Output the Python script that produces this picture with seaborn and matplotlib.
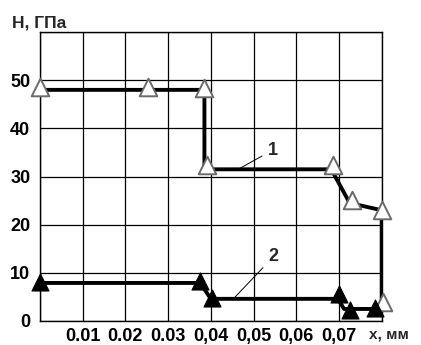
import matplotlib
matplotlib.use("Agg")
import matplotlib.pyplot as plt
import seaborn as sns
import numpy as np

# curve 1 (open triangles): polyline and marker positions
line1_x = [0.0, 0.0385, 0.0385, 0.0682, 0.0725, 0.0800, 0.0800]
line1_y = [48.0, 48.0, 31.5, 31.5, 24.5, 23.0, 4.0]
mark1_x = [0.0, 0.0254, 0.0383, 0.0391, 0.0687, 0.0730, 0.0800, 0.0803]
mark1_y = [48.6, 48.6, 48.4, 32.3, 32.4, 25.1, 23.0, 4.0]

# curve 2 (filled triangles)
line2_x = [0.0, 0.0375, 0.0400, 0.0697, 0.0712, 0.0790]
line2_y = [7.9, 7.9, 4.6, 4.6, 2.5, 2.5]
mark2_x = [0.0, 0.0375, 0.0402, 0.0699, 0.0726, 0.0785]
mark2_y = [8.0, 8.4, 4.8, 5.6, 2.3, 2.6]

x_ticks = [0.01, 0.02, 0.03, 0.04, 0.05, 0.06, 0.07]
x_labels = ["0.01", "0.02", "0.03", "0,04", "0,05", "0,06", "0,07"]
y_ticks = [0, 10, 20, 30, 40, 50]

sns.set_theme(style="white")
plt.rcParams['font.family'] = ['Liberation Sans', 'DejaVu Sans']

fig = plt.figure(figsize=(4.21, 3.45), dpi=100)
ax = fig.add_axes([0.095, 0.0696, 0.8116, 0.8374])

sns.lineplot(x=line1_x, y=line1_y, sort=False, estimator=None, color="black",
             lw=2.8, ax=ax, zorder=3)
sns.scatterplot(x=mark1_x, y=mark1_y, marker="^", s=160, color="white",
                edgecolor="#6a6a6a", linewidth=1.4, ax=ax, zorder=4, clip_on=False)
sns.lineplot(x=line2_x, y=line2_y, sort=False, estimator=None, color="black",
             lw=2.8, ax=ax, zorder=5)
sns.scatterplot(x=mark2_x, y=mark2_y, marker="^", s=150, color="black",
                edgecolor="black", linewidth=0.8, ax=ax, zorder=6, clip_on=False)

ax.set_xlim(0, 0.08)
ax.set_ylim(0, 60)
ax.set_xticks(np.arange(0, 0.0801, 0.01))
ax.set_xticklabels([""] + x_labels + [""], fontsize=13, fontweight="bold")
ax.set_yticks([0, 10, 20, 30, 40, 50, 60])
ax.set_yticklabels([str(v) for v in y_ticks] + [""], fontsize=13, fontweight="bold")
ax.tick_params(length=0, pad=5, colors="black")
ax.tick_params(axis="y", pad=7)
ax.grid(True, color="black", lw=0.9)
ax.set_axisbelow(True)
for sp in ax.spines.values():
    sp.set_color("black")
    sp.set_linewidth(1.0)
ax.set_xlabel("")
ax.set_ylabel("")

# curve labels with leader lines
ax.annotate("1", xy=(0.0468, 31.7), xytext=(0.0545, 35.5), fontsize=13,
            fontweight="bold", ha="center", va="center",
            arrowprops=dict(arrowstyle="-", color="black", lw=0.7, shrinkA=2, shrinkB=0))
ax.annotate("2", xy=(0.0457, 5.0), xytext=(0.0546, 13.3), fontsize=13,
            fontweight="bold", ha="center", va="center",
            arrowprops=dict(arrowstyle="-", color="black", lw=0.7, shrinkA=2, shrinkB=0))

fig.text(0.028, 0.933, "H, ГПа", fontsize=12.5, fontweight="bold", ha="left", va="center")
fig.text(0.924, 0.029, "x, мм", fontsize=11, fontweight="bold", ha="center", va="center")

fig.savefig("out.png", dpi=100)
